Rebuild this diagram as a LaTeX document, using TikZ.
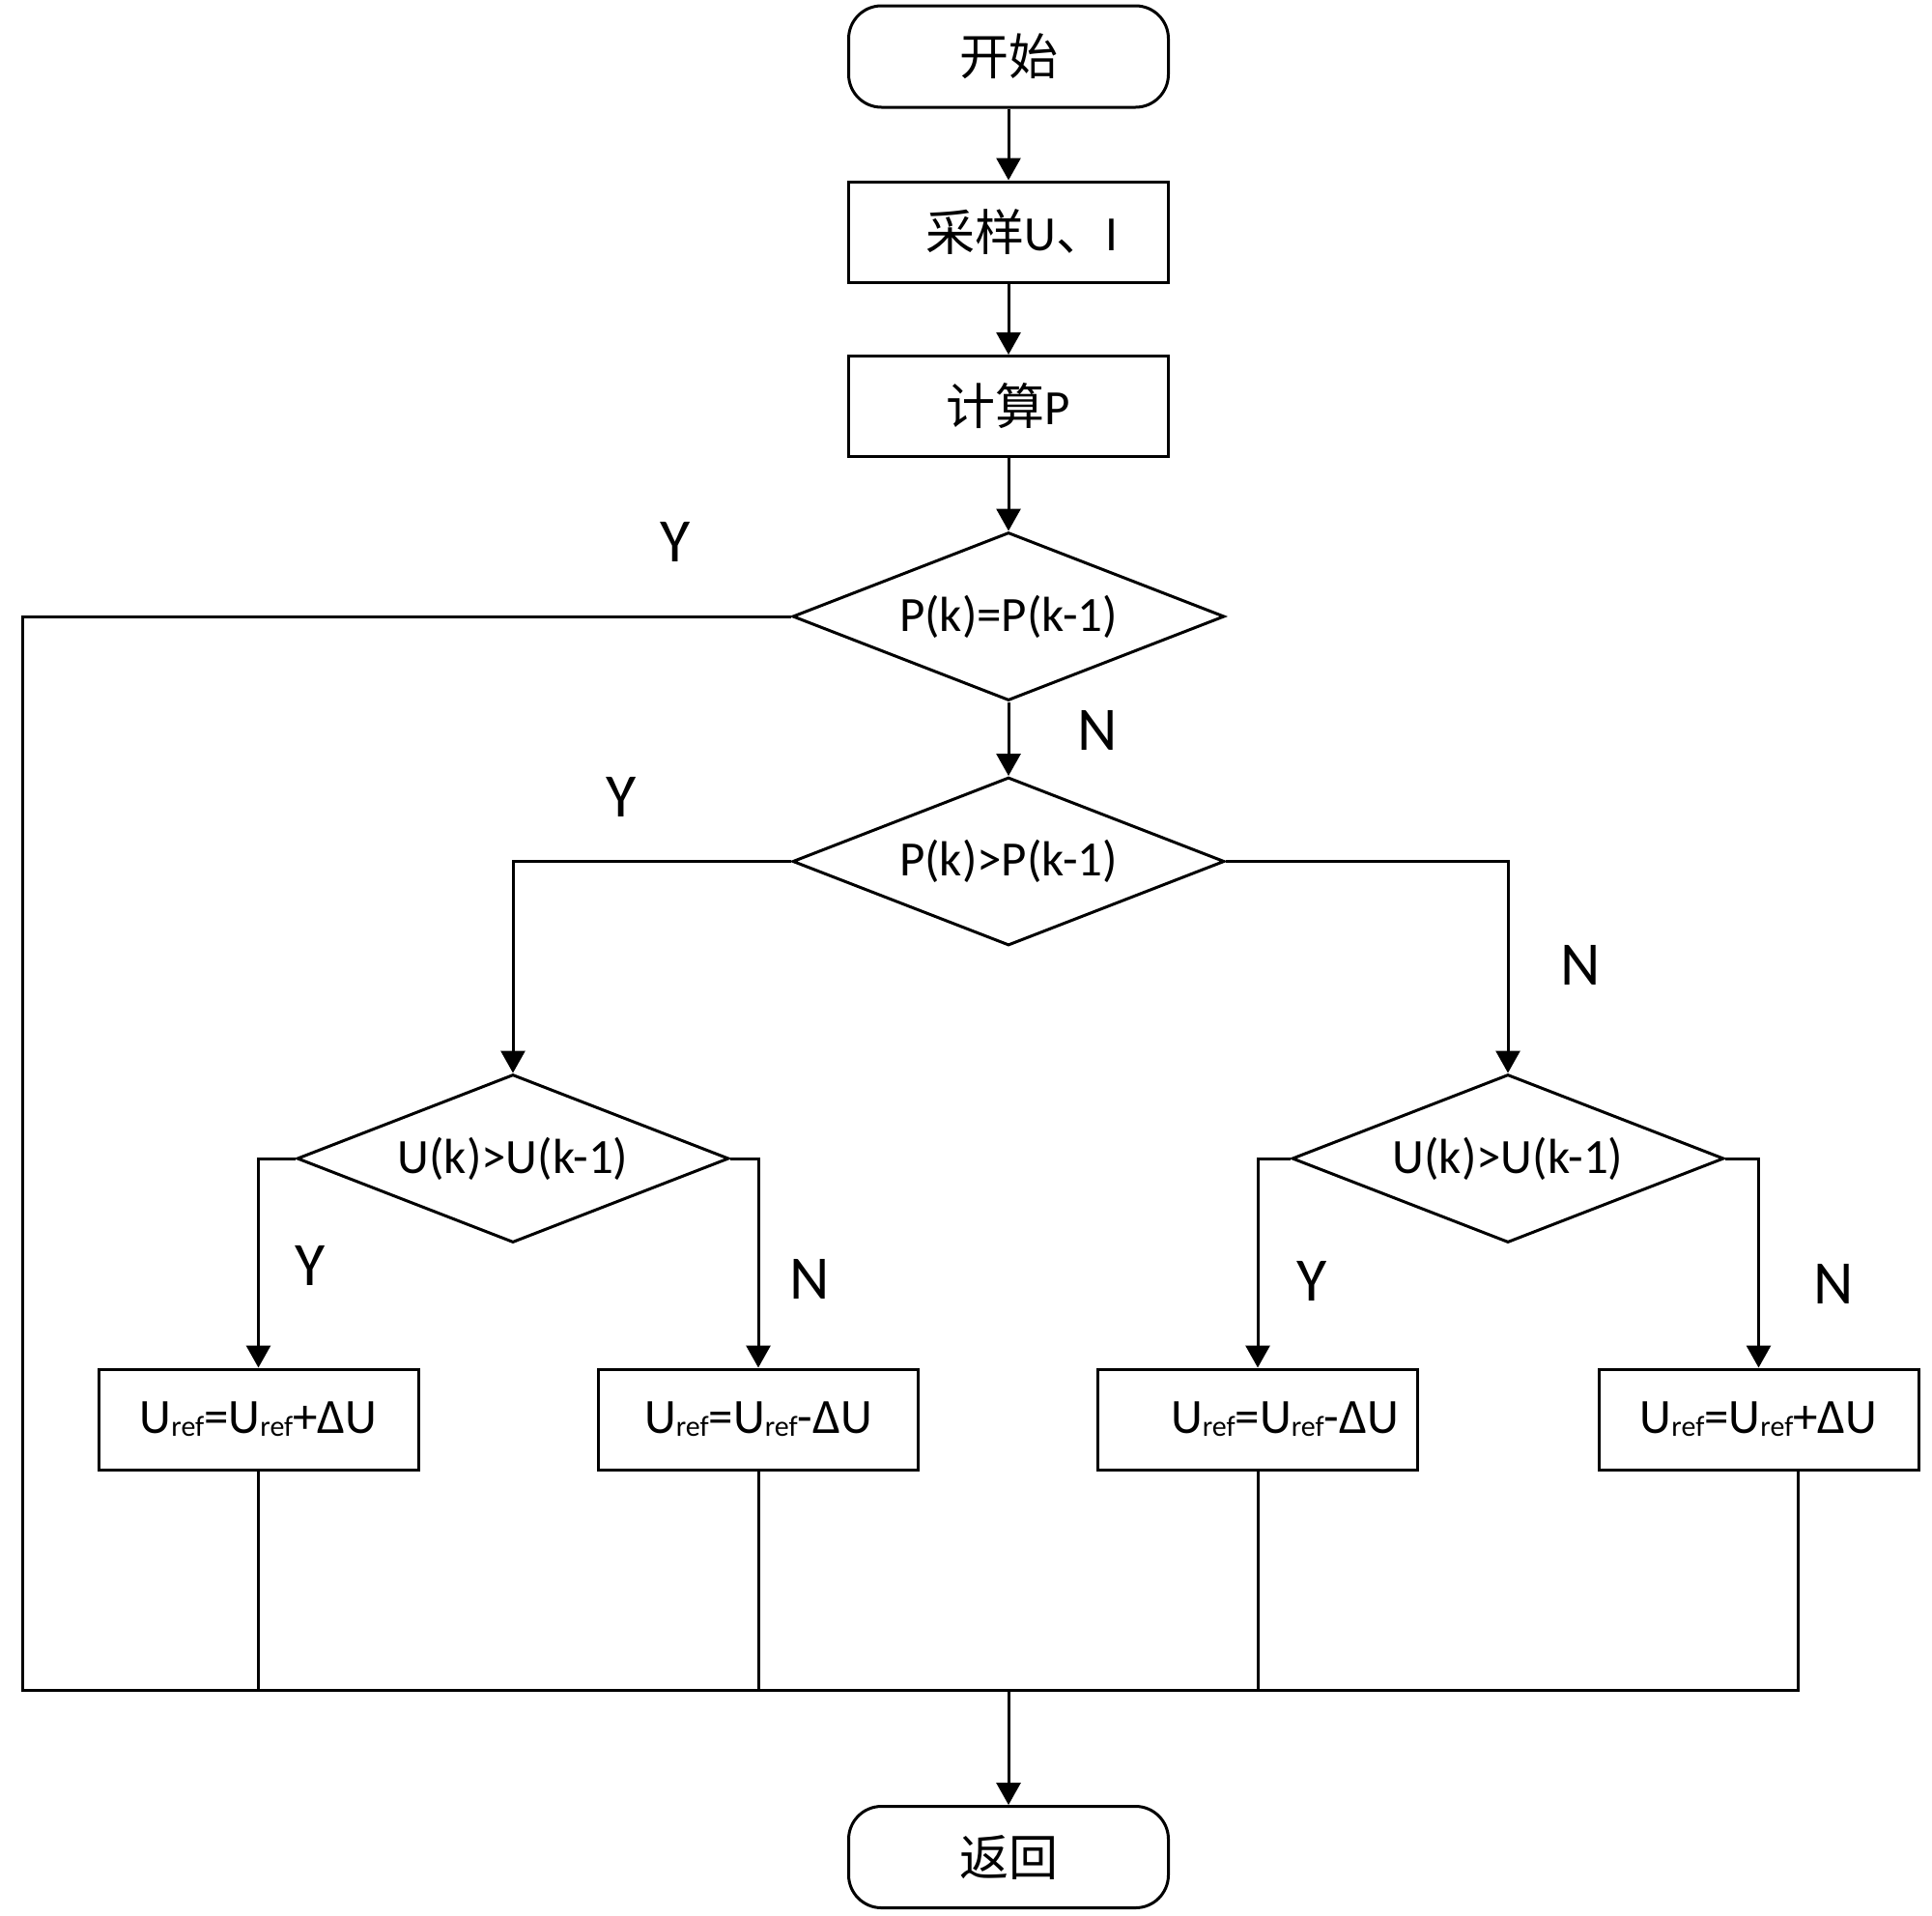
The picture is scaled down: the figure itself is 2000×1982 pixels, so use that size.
\documentclass[tikz,border=0pt]{standalone}
\usepackage{fontspec}
\setmainfont{Carlito}
\newfontfamily\cjk{Noto Sans CJK SC}
\usetikzlibrary{shapes.geometric,arrows.meta}
\newcommand{\rf}{\raisebox{-1.5pt}{\fontsize{15}{15}\selectfont ref}}
\begin{document}
\begin{tikzpicture}[x=0.5pt,y=-0.5pt,
  every node/.style={font=\fontsize{25.5}{28}\selectfont},
  line/.style={line width=1.5pt},
  arr/.style={line width=1.5pt,-{Triangle[width=12.5pt,length=11.5pt]}},
  term/.style={draw,line width=1.5pt,rounded corners=17pt,minimum width=165.5pt,minimum height=52.5pt,inner sep=0pt},
  procbox/.style={draw,line width=1.5pt,minimum width=165.5pt,minimum height=52pt,inner sep=0pt},
  dec/.style={draw,line width=1.5pt,diamond,aspect=2.57,minimum width=223.5pt,minimum height=87pt,inner sep=0pt},
  yn/.style={font=\fontsize{32}{34}\selectfont}]
\useasboundingbox (0,0) rectangle (2000,1982);
\node[term] (start) at (1044,58.5) {\cjk 开始};
\node[procbox] (samp) at (1044,240) {\hspace{14pt}{\cjk 采样}U{\cjk 、}I};
\node[procbox] (calc) at (1044,420.5) {{\cjk 计算}P};
\node[dec] (d1) at (1044,638) {P(k)=P(k-1)};
\node[dec] (d2) at (1044,891.5) {P(k)>P(k-1)};
\node[dec] (d3) at (531,1199) {U(k)>U(k-1)};
\node[dec] (d4) at (1561,1199) {U(k)>U(k-1)};
\node[procbox] (ba) at (267.5,1469) {U\rf=U\rf+ΔU};
\node[procbox] (bb) at (785,1469) {U\rf=U\rf-ΔU};
\node[procbox] (bc) at (1302,1469) {\hspace{28pt}U\rf=U\rf-ΔU};
\node[procbox] (bd) at (1820.5,1469) {U\rf=U\rf+ΔU};
\node[term] (stop) at (1044,1922) {\cjk 返回};
\node[yn] (y1) at (699,561) {Y};
\node[yn] (n1) at (1136,756) {N};
\node[yn] (y2) at (643,825) {Y};
\node[yn] (n2) at (1636,999) {N};
\node[yn] (y3) at (321,1310) {Y};
\node[yn] (n3) at (838,1324) {N};
\node[yn] (y4) at (1358,1326) {Y};
\node[yn] (n4) at (1898,1329) {N};
\coordinate (L) at (23,1749);
\coordinate (R) at (1861,1749);
\coordinate (bot) at (1044,1749);
\coordinate (dtop) at (1861,1522);
\draw[arr] (start) -- (samp);
\draw[arr] (samp) -- (calc);
\draw[arr] (calc) -- (d1.north);
\draw[arr] (d1.south) -- (d2.north);
\draw[arr] (d2.west) -| (d3.north);
\draw[arr] (d2.east) -| (d4.north);
\draw[arr] (d3.west) -| (ba.north);
\draw[arr] (d3.east) -| (bb.north);
\draw[arr] (d4.west) -| (bc.north);
\draw[arr] (d4.east) -| (bd.north);
\draw[line] (d1.west) -| (L) -- (R) -- (dtop);
\draw[line] (ba.south) -- (ba.south |- bot);
\draw[line] (bb.south) -- (bb.south |- bot);
\draw[line] (bc.south) -- (bc.south |- bot);
\draw[arr] (bot) -- (stop.north);
\end{tikzpicture}
\end{document}
